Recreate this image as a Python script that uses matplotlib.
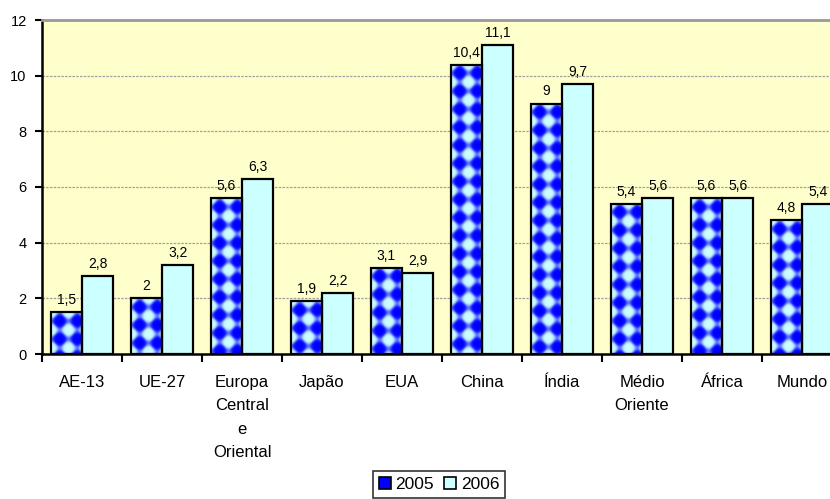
#Crescimento do PIB 2005/2006 - grafico de barras estilo Excel
import numpy as np
import matplotlib
matplotlib.use("Agg")
from matplotlib import pyplot as plt
from matplotlib.patches import Rectangle

#Dados
regioes = ["AE-13", "UE-27", "Europa\nCentral\ne\nOriental", "Japão", "EUA",
           "China", "Índia", "Médio\nOriente", "África", "Mundo"]
val_2005 = [1.5, 2.0, 5.6, 1.9, 3.1, 10.4, 9.0, 5.4, 5.6, 4.8]
val_2006 = [2.8, 3.2, 6.3, 2.2, 2.9, 11.1, 9.7, 5.6, 5.6, 5.4]
series = ["2005", "2006"]
yticks = [0, 2, 4, 6, 8, 10, 12]

plt.rcParams['font.family'] = ['Liberation Sans', 'DejaVu Sans']

BLUE = (0.0, 0.0, 1.0)
CYAN = (0.8, 1.0, 1.0)
BG = "#FFFFCC"


def fmt(v):
    #formato portugues: virgula decimal, sem ",0"
    s = ("%.1f" % v).rstrip("0").rstrip(".")
    return s.replace(".", ",")


def diamond_pattern(w, h, dx=17.0, dy=18.0):
    #padrao xadrez de losangos (azul / ciano) como no Excel
    xx, yy = np.meshgrid(np.arange(w) + 0.5, np.arange(h) + 0.5)
    a = 2 * xx / dx + 2 * yy / dy
    b = 2 * xx / dx - 2 * yy / dy
    t = np.cos(np.pi * a / 2) * np.cos(np.pi * b / 2)
    t = 0.5 + 0.5 * np.tanh(3.0 * (t - 0.03))
    img = np.zeros((h, w, 3))
    for c in range(3):
        img[:, :, c] = BLUE[c] + (CYAN[c] - BLUE[c]) * t
    return img


fig = plt.figure(figsize=(8.3, 4.99), dpi=100)
ax = fig.add_axes([42 / 830, 145 / 499, 800 / 830, 334 / 499])
ax.set_facecolor(BG)

x = np.arange(len(regioes))
w = 0.39

bars05 = ax.bar(x - w / 2, val_2005, w, color=BLUE, edgecolor="none", zorder=2)
bars06 = ax.bar(x + w / 2, val_2006, w, color=CYAN, edgecolor="black",
                linewidth=1.6, zorder=3)

ax.set_xlim(-0.5, len(regioes) - 0.5)
ax.set_ylim(0, 12)

#padrao de losangos em cada barra de 2005 (ancorado no topo da barra)
px_x = 800 / len(regioes)
px_y = 334 / 12.0
for b in bars05:
    x0, h = b.get_x(), b.get_height()
    wpx = int(round(b.get_width() * px_x))
    hpx = int(round(h * px_y))
    pat = diamond_pattern(wpx, hpx)
    im = ax.imshow(pat, extent=(x0, x0 + b.get_width(), 0, h),
                   aspect="auto", origin="upper", zorder=2.2,
                   interpolation="bilinear")
    im.set_clip_path(b)
ax.bar(x - w / 2, val_2005, w, fill=False, edgecolor="black",
       linewidth=1.6, zorder=3)
ax.set_xlim(-0.5, len(regioes) - 0.5)
ax.set_ylim(0, 12)

#rotulos de dados
for xi, v in zip(x, val_2005):
    ax.text(xi - w / 2, v + 0.18, fmt(v), ha="center", va="bottom",
            fontsize=10, zorder=4)
for xi, v in zip(x, val_2006):
    ax.text(xi + w / 2, v + 0.18, fmt(v), ha="center", va="bottom",
            fontsize=10, zorder=4)

#grade
for yv in yticks[1:-1]:
    ax.axhline(yv, color="#A0A0A0", linestyle=(0, (2, 1)), linewidth=0.9, zorder=1)

ax.spines["top"].set_color("#999999")
ax.spines["top"].set_linewidth(2)
ax.spines["right"].set_visible(False)
ax.spines["left"].set_linewidth(1.8)
ax.spines["bottom"].set_linewidth(1.8)

ax.set_yticks(yticks)
ax.set_yticklabels([str(t) for t in yticks], fontsize=10.5)
ax.tick_params(axis="y", length=5, width=1.5, pad=6)

ax.set_xticks(x)
ax.set_xticklabels(regioes, fontsize=12, linespacing=1.7)
ax.set_xticks(np.arange(len(regioes) + 1) - 0.5, minor=True)
ax.tick_params(axis="x", which="major", length=0, pad=15)
ax.tick_params(axis="x", which="minor", length=6, width=1.5)

#legenda
h05 = Rectangle((0, 0), 1, 1, facecolor=BLUE, edgecolor="black", linewidth=1.2)
h06 = Rectangle((0, 0), 1, 1, facecolor=CYAN, edgecolor="black", linewidth=1.2)
leg = fig.legend([h05, h06], series, loc="upper center",
                 bbox_to_anchor=(439 / 830, 1 - 471 / 499), ncol=2,
                 fontsize=12.5, frameon=True, fancybox=False,
                 handlelength=0.7, handleheight=0.7, handletextpad=0.25,
                 columnspacing=0.6, borderpad=0.35, borderaxespad=0)
leg.get_frame().set_edgecolor("black")
leg.get_frame().set_linewidth(1.2)

fig.savefig("out.png", dpi=100)
